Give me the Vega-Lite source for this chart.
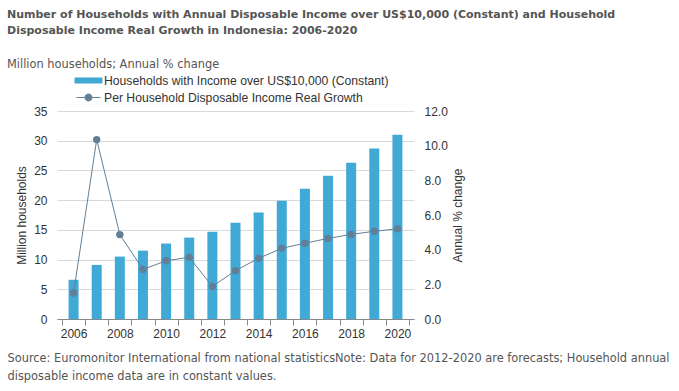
{
  "$schema": "https://vega.github.io/schema/vega-lite/v6.json",
  "width": 357,
  "height": 208,
  "autosize": {"type": "none"},
  "padding": {"left": 57, "top": 111, "right": 265, "bottom": 72},
  "background": "white",
  "title": {
    "text": ["Number of Households with Annual Disposable Income over US$10,000 (Constant) and Household", "Disposable Income Real Growth in Indonesia: 2006-2020"],
    "subtitle": "Million households; Annual % change",
    "anchor": "start",
    "frame": "group",
    "dx": -50,
    "offset": 3,
    "font": "DejaVu Sans",
    "fontSize": 11,
    "fontWeight": "bold",
    "color": "#555555",
    "lineHeight": 16,
    "subtitleFont": "DejaVu Sans",
    "subtitleFontSize": 11.4,
    "subtitleColor": "#555555",
    "subtitlePadding": 23
  },
  "data": {
    "values": [
      {"year": 2006, "households": 6.6, "growth": 1.50},
      {"year": 2007, "households": 9.1, "growth": 10.35},
      {"year": 2008, "households": 10.5, "growth": 4.87},
      {"year": 2009, "households": 11.5, "growth": 2.86},
      {"year": 2010, "households": 12.7, "growth": 3.36},
      {"year": 2011, "households": 13.7, "growth": 3.56},
      {"year": 2012, "households": 14.7, "growth": 1.88},
      {"year": 2013, "households": 16.2, "growth": 2.79},
      {"year": 2014, "households": 17.9, "growth": 3.50},
      {"year": 2015, "households": 19.9, "growth": 4.08},
      {"year": 2016, "households": 21.9, "growth": 4.37},
      {"year": 2017, "households": 24.1, "growth": 4.65},
      {"year": 2018, "households": 26.3, "growth": 4.88},
      {"year": 2019, "households": 28.7, "growth": 5.06},
      {"year": 2020, "households": 31.0, "growth": 5.20}
    ]
  },
  "encoding": {
    "x": {
      "field": "year",
      "type": "quantitative",
      "scale": {"domain": [2005.5, 2020.5], "nice": false, "zero": false},
      "axis": {
        "values": [2005.5, 2006, 2006.5, 2007.5, 2008, 2008.5, 2009.5, 2010, 2010.5, 2011.5, 2012, 2012.5, 2013.5, 2014, 2014.5, 2015.5, 2016, 2016.5, 2017.5, 2018, 2018.5, 2019.5, 2020, 2020.5],
        "labelExpr": "datum.value % 2 == 0 ? toString(datum.value) : ''",
        "labelOverlap": false,
        "labelFlush": false,
        "labelFont": "Liberation Sans",
        "labelFontSize": 12,
        "labelColor": "#333333",
        "labelPadding": 3,
        "tickOpacity": {"condition": {"test": "datum.value % 1 == 0", "value": 0}, "value": 1},
        "tickColor": "#888888",
        "tickSize": 6,
        "domainColor": "#888888",
        "grid": false,
        "title": ["Source: Euromonitor International from national statisticsNote: Data for 2012-2020 are forecasts; Household annual", "disposable income data are in constant values."],
        "titleX": -50,
        "titleY": 33,
        "titleAlign": "left",
        "titleAnchor": "start",
        "titleBaseline": "top",
        "titleFont": "DejaVu Sans",
        "titleFontSize": 11.4,
        "titleFontWeight": "normal",
        "titleColor": "#555555",
        "titleLineHeight": 18,
        "titleLimit": 700
      }
    }
  },
  "layer": [
    {
      "mark": {"type": "bar", "size": 10},
      "encoding": {
        "y": {
          "field": "households",
          "type": "quantitative",
          "scale": {"domain": [0, 35], "nice": false},
          "axis": {
            "values": [0, 5, 10, 15, 20, 25, 30, 35],
            "title": "Million households",
            "titleFont": "Liberation Sans",
            "titleFontSize": 12,
            "titleFontWeight": "normal",
            "titleColor": "#333333",
            "titlePadding": 5,
            "labelFont": "Liberation Sans",
            "labelFontSize": 12,
            "labelColor": "#333333",
            "labelPadding": 10,
            "domain": false,
            "ticks": false,
            "grid": true,
            "gridColor": "#d9d9d9"
          }
        },
        "color": {
          "datum": "Households with Income over US$10,000 (Constant)",
          "type": "nominal",
          "scale": {
            "domain": ["Households with Income over US$10,000 (Constant)", "Per Household Disposable Income Real Growth"],
            "range": ["#41a9d6", "#627f98"]
          },
          "legend": {
            "orient": "none",
            "legendX": 24,
            "legendY": -38,
            "direction": "vertical",
            "title": null,
            "symbolSize": 196,
            "labelFont": "Liberation Sans",
            "labelFontSize": 12.2,
            "labelColor": "#333333",
            "labelOffset": 8,
            "labelLimit": 400,
            "rowPadding": 3,
            "encode": {
              "symbols": {
                "update": {
                  "shape": {"signal": "datum.value == 'Households with Income over US$10,000 (Constant)' ? 'M-1.93,-0.36H1.93V0.36H-1.93Z' : 'M-1.71,0H1.71M0.5,0A0.5,0.5,0,1,1,-0.5,0A0.5,0.5,0,1,1,0.5,0'"},
                  "fill": {"signal": "scale('color', datum.value)"},
                  "stroke": {"signal": "scale('color', datum.value)"},
                  "strokeWidth": {"value": 1},
                  "opacity": {"value": 1},
                  "fillOpacity": {"value": 1}
                }
              }
            }
          }
        }
      }
    },
    {
      "mark": {"type": "line", "strokeWidth": 1, "point": {"filled": true, "size": 55, "opacity": 1}},
      "encoding": {
        "y": {
          "field": "growth",
          "type": "quantitative",
          "scale": {"domain": [0, 12], "nice": false},
          "axis": {
            "orient": "right",
            "values": [0, 2, 4, 6, 8, 10, 12],
            "format": ".1f",
            "title": "Annual % change",
            "titleAngle": 270,
            "titleFont": "Liberation Sans",
            "titleFontSize": 12,
            "titleFontWeight": "normal",
            "titleColor": "#333333",
            "titlePadding": 17,
            "labelFont": "Liberation Sans",
            "labelFontSize": 12,
            "labelColor": "#333333",
            "labelPadding": 10,
            "domain": false,
            "ticks": false,
            "grid": false
          }
        },
        "color": {"datum": "Per Household Disposable Income Real Growth", "type": "nominal"}
      }
    }
  ],
  "resolve": {"scale": {"y": "independent"}},
  "config": {"view": {"stroke": null}}
}
